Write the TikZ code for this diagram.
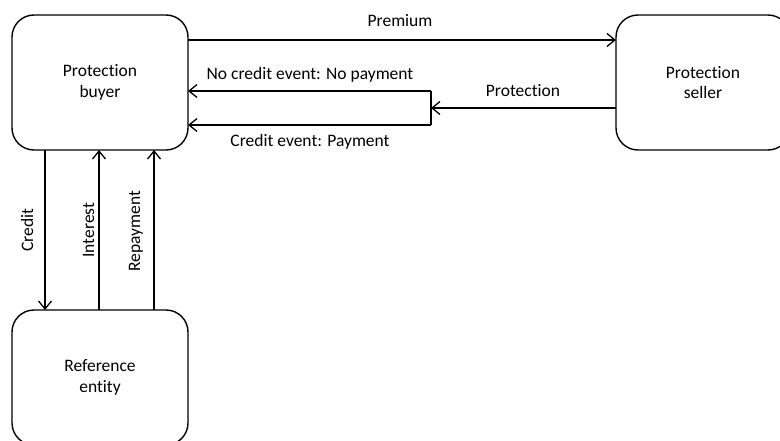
\documentclass[tikz,border=0pt]{standalone}
\usepackage{fontspec}
\setmainfont{Carlito}[Ligatures=NoCommon,RawFeature={-liga;-clig;-dlig}]
\usetikzlibrary{arrows.meta}
\tikzset{
  box/.style={draw, line width=1.4pt, rounded corners=22pt, align=center, inner sep=0pt, outer sep=0pt, text width=150pt},
  conn/.style={line width=1.3pt, -{Straight Barb[length=8pt,width=13pt,line width=1.3pt]}},
  plain/.style={line width=1.3pt},
  lab/.style={inner sep=0pt, anchor=base}
}
\begin{document}
\begin{tikzpicture}[x=1pt,y=-1pt,font=\fontsize{17.5}{20.5}\selectfont]
\clip (0,0) rectangle (780,441);
\node[box, minimum width=176pt, minimum height=135pt] (buyer) at (100,82.5) {Protection\\buyer};
\node[box, minimum width=174pt, minimum height=135pt] (seller) at (703,82.5) {Protection\\seller};
\node[box, minimum width=176pt, minimum height=135pt] (ref) at (100,377.5) {Reference\\entity};
\coordinate (ytop) at (0,40);
\coordinate (split) at (431,108);
\coordinate (ntop) at (431,91);
\coordinate (nbot) at (431,125);
\coordinate (xc) at (45,0);
\coordinate (xi) at (99,0);
\coordinate (xr) at (154,0);
% Premium
\draw[conn] (buyer.east |- ytop) -- (seller.west |- ytop);
\node[lab] (lprem) at (400,27) {Premium};
% Protection
\draw[conn] (seller.west |- split) -- (split);
\node[lab] (lprot) at (523,97) {Protection};
\draw[plain] (ntop) -- (nbot);
\draw[conn] (ntop) -- (buyer.east |- ntop);
\draw[conn] (nbot) -- (buyer.east |- nbot);
\node[lab] (lnce) at (310,80) {No credit event: No payment};
\node[lab] (lce) at (310,146.5) {Credit event: Payment};
% verticals
\draw[conn] (buyer.south -| xc) -- (ref.north -| xc);
\draw[conn] (ref.north -| xi) -- (buyer.south -| xi);
\draw[conn] (ref.north -| xr) -- (buyer.south -| xr);
\node[lab, rotate=90] (lcred) at (33,230) {Credit};
\node[lab, rotate=90] (lint) at (94,230) {Interest};
\node[lab, rotate=90] (lrep) at (140,231) {Repayment};
\end{tikzpicture}
\end{document}
